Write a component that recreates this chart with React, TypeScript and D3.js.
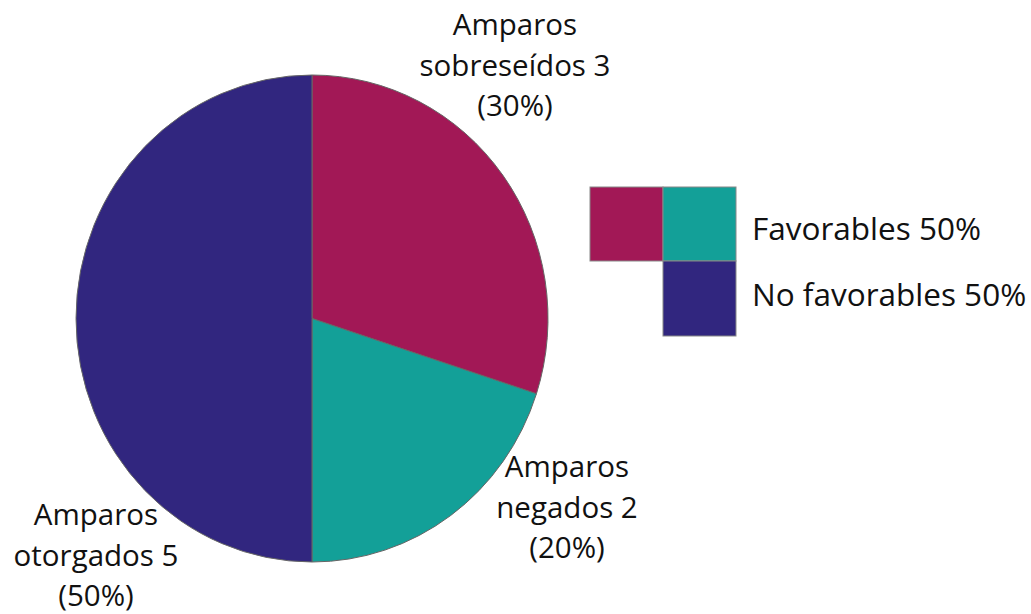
import React from "react";
import * as d3 from "d3";

const categories = ["Amparos sobreseídos", "Amparos negados", "Amparos otorgados"];
const values = [3, 2, 5];
const colors = ["#A21856", "#13A098", "#31267F"];
const labelLines = [
  ["Amparos", "sobreseídos 3", "(30%)"],
  ["Amparos", "negados 2", "(20%)"],
  ["Amparos", "otorgados 5", "(50%)"],
];
const labelPos = [
  { x: 515, y: 35 },
  { x: 567, y: 477 },
  { x: 96, y: 525 },
];
const legendLabels = ["Favorables 50%", "No favorables 50%"];

export default function App() {
  const cx = 312, cy = 318.5, rx = 236, ry = 243.5;
  const pie = d3.pie<number>().value((d) => d).sort(null);
  const arcs = pie(values);
  const arc = d3.arc<d3.PieArcDatum<number>>().innerRadius(0).outerRadius(rx);
  const font = "'Open Sans', sans-serif";
  const lh = 40.5;
  return (
    <svg width={1031} height={614} style={{ position: "absolute", left: 0, top: 0 }}>
      <rect width={1031} height={614} fill="#fff" />
      <g transform={`translate(${cx},${cy}) scale(1,${ry / rx})`}>
        {arcs.map((a, i) => (
          <path key={categories[i]} d={arc(a) || ""} fill={colors[i]} stroke="#666" strokeWidth={1} vectorEffect="non-scaling-stroke" />
        ))}
      </g>
      {labelLines.map((lines, i) => (
        <text key={i} fontFamily={font} fontSize={29.5} fill="#111" textAnchor="middle">
          {lines.map((l, j) => (
            <tspan key={j} x={labelPos[i].x} y={labelPos[i].y + j * lh}>{l}</tspan>
          ))}
        </text>
      ))}
      <g>
        <rect x={590} y={187} width={73} height={74} fill={colors[0]} stroke="#888" strokeWidth={1} />
        <rect x={663} y={187} width={73} height={74} fill={colors[1]} stroke="#888" strokeWidth={1} />
        <rect x={663} y={261} width={73} height={75} fill={colors[2]} stroke="#888" strokeWidth={1} />
        <text x={752} y={240} fontFamily={font} fontSize={31.5} fill="#111">{legendLabels[0]}</text>
        <text x={752} y={306} fontFamily={font} fontSize={31.5} fill="#111">{legendLabels[1]}</text>
      </g>
    </svg>
  );
}
